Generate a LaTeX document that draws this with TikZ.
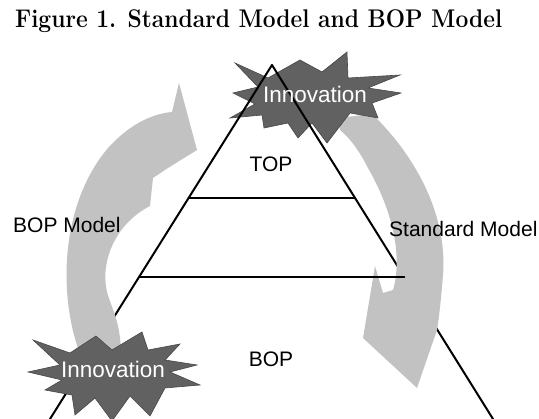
\documentclass[tikz,border=0pt]{standalone}
\usepackage{fontspec}
\usetikzlibrary{calc}
\newfontfamily\labelfont{Liberation Sans}
\begin{document}
\begin{tikzpicture}[x=1pt,y=-1pt,
  edge/.style={line width=2pt, line cap=round},
  curvedarrow/.style={fill=black!24},
  burst/.style={fill=black!62, draw=black!72, line width=0.6pt, line join=miter},
  label/.style={font=\labelfont\fontsize{21}{21}\selectfont, inner sep=0pt},
  burstlabel/.style={font=\labelfont\fontsize{22.5}{22.5}\selectfont, text=white, inner sep=0pt},
  titlestyle/.style={font=\fontsize{22.8}{27}\selectfont\bfseries, inner sep=0pt},
]
\useasboundingbox (0,0) rectangle (539,419);

% title
\node[titlestyle, anchor=base west] (title) at (15,28)
  {\scalebox{1}[1.12]{Figure 1. Standard Model and BOP Model}};

% pyramid corners and level points
\coordinate (apex) at (272,65);
\coordinate (bl) at (50,419);
\coordinate (br) at (493,419);
\coordinate (l1) at ($(apex)!0.3757!(bl)$);
\coordinate (r1) at ($(apex)!0.3757!(br)$);
\coordinate (l2) at ($(apex)!0.5989!(bl)$);
\coordinate (r2) at ($(apex)!0.5989!(br)$);

% lower slanted edges (partly hidden by the arrows)
\draw[edge] (l1) -- (bl);
\draw[edge] (r1) -- (br);

% left curved arrow, pointing up
\path[curvedarrow] (179,83) -- (197,150) -- (168,168) -- (153,178) -- (150,206)
  .. controls (115,224) and (100,262) .. (107,292)
  .. controls (112,310) and (120,320) .. (121,352) -- (80,354)
  .. controls (58,295) and (60,205) .. (108,148)
  .. controls (128,126) and (150,114) .. (172,112) -- cycle;

% right curved arrow, pointing down
\path[curvedarrow] (338,118) -- (372,114)
  .. controls (410,150) and (448,210) .. (443,275)
  .. controls (441,300) and (439,318) .. (437,330)
  -- (417,388) -- (363,338) -- (375,266) -- (383,293) -- (393,290)
  .. controls (402,260) and (395,215) .. (368,168)
  .. controls (360,152) and (350,138) .. (340,130) -- cycle;

% upper burst
\path[burst] (235,63) -- (268,78) -- (300,60) -- (322,72) -- (347,52) -- (348,78)
  -- (400,75) -- (368,88) -- (401,93) -- (372,103) -- (378,118) -- (350,113)
  -- (327,143) -- (312,123) -- (298,138) -- (288,123) -- (264,128) -- (262,115)
  -- (230,118) -- (255,104) -- (233,93) -- (258,87) -- cycle;

% upper slanted edges
\draw[edge] (apex) -- (l1);
\draw[edge] (apex) -- (r1);

% lower burst
\path[burst] (33,340) -- (70,353) -- (96,336) -- (112,350) -- (142,332) -- (148,350)
  -- (180,344) -- (165,360) -- (197,365) -- (170,372) -- (200,385) -- (165,388)
  -- (150,416) -- (130,396) -- (112,421) -- (95,398) -- (75,415) -- (72,395)
  -- (45,390) -- (62,380) -- (28,372) -- (60,365) -- cycle;

% level lines
\draw[edge] (l1) -- (r1);
\draw[edge] (l2) -- (r2);

% labels
\node[label, anchor=base] (top) at (271,172) {TOP};
\node[label, anchor=base] (bop) at (271,367) {BOP};
\node[label, anchor=base west] (bopmodel) at (13,233) {BOP Model};
\node[label, anchor=base west] (stdmodel) at (389,237) {Standard Model};
\node[burstlabel, anchor=base] (innotop) at (315,103) {Innovation};
\node[burstlabel, anchor=base] (innobottom) at (113,378) {Innovation};
\end{tikzpicture}
\end{document}
